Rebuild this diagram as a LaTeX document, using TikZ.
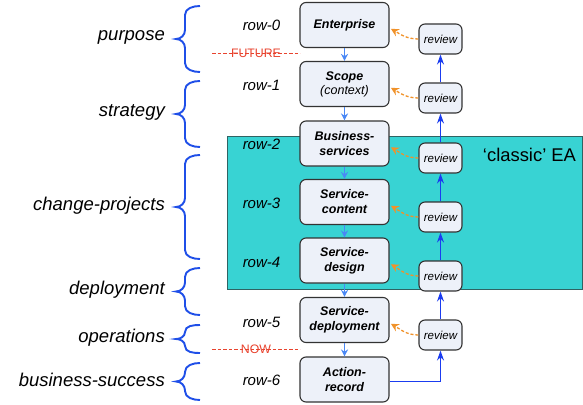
\documentclass[tikz,border=0pt]{standalone}
\usepackage{fontspec}
\setmainfont{Liberation Sans}
\usetikzlibrary{arrows.meta}

\definecolor{stagefill}{HTML}{EDF1F9}
\definecolor{bracecol}{HTML}{1F4FE8}
\definecolor{flowcol}{HTML}{4A88F5}
\definecolor{revcol}{HTML}{1A3CF0}
\definecolor{fbcol}{HTML}{F0922A}
\definecolor{eacol}{HTML}{38D3D3}
\definecolor{eaborder}{HTML}{2F6363}
\definecolor{timecol}{HTML}{E8432E}

\tikzset{
  stage/.style={draw=black!80, fill=stagefill, rounded corners=6pt, line width=1.1pt,
    minimum width=89pt, minimum height=45pt, align=center,
    font=\fontsize{12.5}{15}\selectfont\bfseries\itshape},
  revbox/.style={draw=black!80, fill=stagefill, rounded corners=6pt, line width=1.1pt,
    minimum width=43pt, minimum height=30pt, font=\fontsize{11.5}{13}\selectfont\itshape},
  rowlbl/.style={font=\fontsize{15}{17}\selectfont\itshape},
  phase/.style={anchor=east, inner sep=0pt, font=\fontsize{18.5}{20}\selectfont\itshape},
  phasebrace/.style={draw=bracecol, line width=1.9pt},
  flow/.style={-{Stealth[length=7pt,width=7pt]}, flowcol, line width=1.6pt},
  upflow/.style={-{Stealth[length=10pt,width=7pt]}, revcol, line width=1.4pt},
  feedback/.style={-{Stealth[length=8pt,width=8pt]}, fbcol, dash pattern=on 3pt off 2pt,
    line width=1.3pt, shorten >=1.5pt},
  timeline/.style={timecol, dash pattern=on 3.5pt off 2pt, line width=0.9pt},
  timelbl/.style={text=timecol, font=\fontsize{12.3}{14}\selectfont}
}

\begin{document}
\begin{tikzpicture}[x=1pt, y=1pt]
  \useasboundingbox (0,0) rectangle (583,-404);

  % Draw the 'classic' EA area
  \draw[fill=eacol, draw=eaborder, line width=0.8pt] (227,-136) rectangle (582,-289);
  \node[font=\fontsize{18.4}{20}\selectfont] (classic) at (529.5,-155) {‘classic’ EA};

  % Draw the phase braces with their labels
  \foreach \t/\b/\name/\txt in {6/72/purp/purpose, 81/147/strat/strategy,
      155/259/chg/change-projects, 268/315/depl/deployment,
      325/353/oper/operations, 363/400/succ/business-success} {
    \pgfmathsetmacro{\m}{(\t+\b)/2}
    \pgfmathsetmacro{\r}{min(9,(\b-\t)/4)}
    \draw[phasebrace] (200,-\t) to[out=180, in=90] (185,-\t-\r) -- (185,-\m+\r)
      to[out=-90, in=0] (176,-\m) to[out=0, in=90] (185,-\m-\r) -- (185,-\b+\r)
      to[out=-90, in=180] (200,-\b);
    \node[phase] (\name) at (165,-\m+1.5) {\txt};
  }

  % Draw the row labels
  \node[rowlbl] (row0) at (261.5,-25) {row-0};
  \node[rowlbl] (row1) at (261.5,-85) {row-1};
  \node[rowlbl] (row2) at (261.5,-144) {row-2};
  \node[rowlbl] (row3) at (261.5,-203) {row-3};
  \node[rowlbl] (row4) at (261.5,-262) {row-4};
  \node[rowlbl] (row5) at (261.5,-322) {row-5};
  \node[rowlbl] (row6) at (261.5,-380) {row-6};

  % Draw the FUTURE and NOW lines
  \coordinate (fut-a) at (212,-53);
  \coordinate (fut-b) at (300,-53);
  \draw[timeline] (fut-a) -- (fut-b) node[midway, timelbl] (future) {FUTURE};
  \coordinate (now-a) at (212,-349);
  \coordinate (now-b) at (300,-349);
  \draw[timeline] (now-a) -- (now-b) node[midway, timelbl] (now) {NOW};

  % Draw the stages
  \node[stage] (ent) at (344.5,-25) {Enterprise};
  \node[stage] (scope) at (344.5,-84) {Scope\\[-1pt]{\mdseries(context)}};
  \node[stage] (bizsvc) at (344.5,-143.5) {Business-\\services};
  \node[stage] (svccont) at (344.5,-202) {Service-\\content};
  \node[stage] (svcdes) at (344.5,-260.5) {Service-\\design};
  \node[stage] (svcdep) at (344.5,-320) {Service-\\deployment};
  \node[stage] (actrec) at (344.5,-379.5) {Action-\\record};

  % Draw the reviews
  \node[revbox] (rev0) at (440.5,-39) {review};
  \node[revbox] (rev1) at (440.5,-98) {review};
  \node[revbox] (rev2) at (440.5,-158) {review};
  \node[revbox] (rev3) at (440.5,-217) {review};
  \node[revbox] (rev4) at (440.5,-276) {review};
  \node[revbox] (rev5) at (440.5,-335) {review};

  % Draw the downward flow between stages
  \foreach \a/\b in {ent/scope, scope/bizsvc, bizsvc/svccont, svccont/svcdes,
      svcdes/svcdep, svcdep/actrec}
    \draw[flow] (\a.south) -- (\b.north);

  % Draw the upward flow through the reviews
  \draw[upflow] ([yshift=-2pt]actrec.east) -| (rev5.south);
  \foreach \a/\b in {rev5/rev4, rev4/rev3, rev3/rev2, rev2/rev1, rev1/rev0}
    \draw[upflow] (\a.north) -- (\b.south);

  % Draw the feedback from each review to its stage
  \foreach \a/\b in {rev0/ent, rev1/scope, rev2/bizsvc, rev3/svccont,
      rev4/svcdes, rev5/svcdep}
    \draw[feedback] (\a.west) to[out=180, in=-30] ([yshift=-3pt]\b.east);
\end{tikzpicture}
\end{document}
